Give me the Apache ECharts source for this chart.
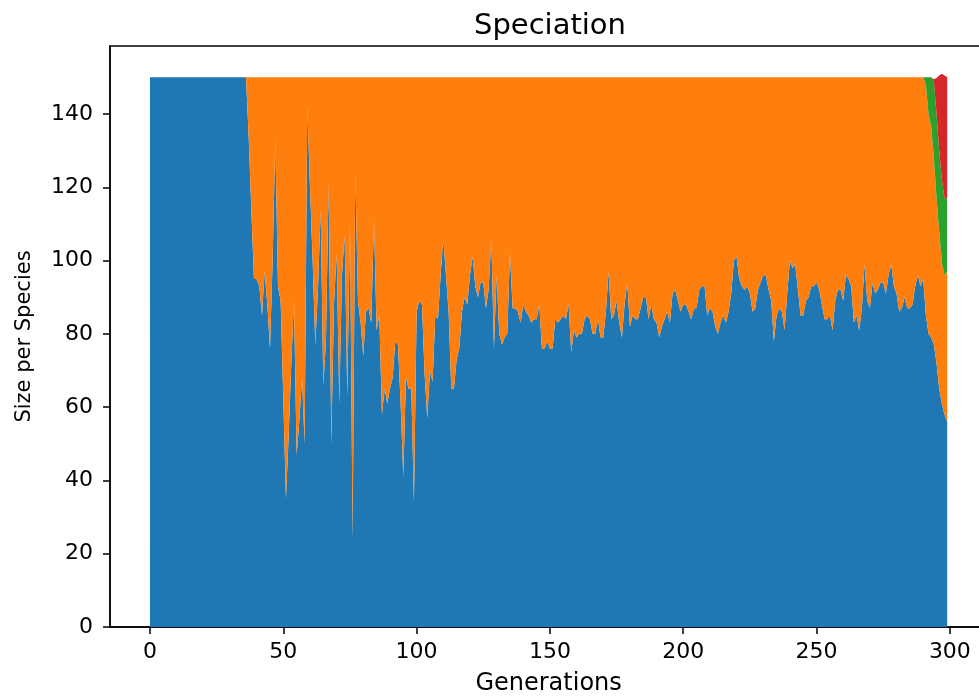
<!DOCTYPE html>
<html>
<head>
<meta charset="utf-8">
<script src="https://cdn.jsdelivr.net/npm/echarts@6/dist/echarts.min.js"></script>
<style>
html,body{margin:0;padding:0;background:#fff;overflow:hidden;width:979px;height:696px;}
#chart{width:992px;height:696px;}
</style>
</head>
<body>
<div id="chart"></div>
<script>
// Species sizes per generation (index = generation)
const speciesNames = ['Species 1', 'Species 2', 'Species 3', 'Species 4'];
const xTicks = [0, 50, 100, 150, 200, 250, 300];
const yTicks = [0, 20, 40, 60, 80, 100, 120, 140];

const blue = [
150,150,150,150,150,150,150,150,150,150,
150,150,150,150,150,150,150,150,150,150,
150,150,150,150,150,150,150,150,150,150,
150,150,150,150,150,150,150,134,114,95,
95,93,85,97,88,76,100,133,93,89,
62,35,52,72,89,47,56,68,50,142,
120,100,77,92,114,66,78,121,50,88,
102,61,96,107,63,110,24,124,89,83,
74,86,87,83,111,81,85,58,65,61,
65,68,78,77,61,41,68,65,65,34,
86,89,88,69,57,70,67,85,84,96,
106,96,86,65,65,73,76,86,90,88,
96,101,93,90,94,94,87,92,106,76,
96,80,77,79,80,102,87,87,86,83,
88,86,85,83,84,84,88,76,76,78,
76,76,84,83,84,85,84,88,75,81,
79,80,80,84,85,84,80,80,84,79,
79,86,97,84,85,89,83,79,88,94,
82,85,84,84,87,90,90,84,88,84,
83,79,82,84,86,83,91,92,89,86,
88,88,86,84,87,87,92,93,93,85,
87,86,82,80,83,85,83,86,91,100,
101,95,93,92,93,91,86,87,92,94,
96,96,92,89,78,85,87,86,81,91,
100,98,99,92,85,85,89,90,93,93,
94,92,88,84,84,85,81,89,92,92,
89,96,95,93,83,85,81,87,99,89,
87,94,91,92,94,94,91,96,99,93,
91,86,87,90,87,87,88,93,96,93,
95,85,80,79,77,72,65,61,58,56
];

// orange species, first appears at generation 36
const orangeStart = 36;
const orange = [
0,
16,36,55,
55,57,65,53,62,74,50,17,57,61,
88,115,98,78,61,103,94,82,100,8,
30,50,73,58,36,84,72,29,100,62,
48,89,54,43,87,40,126,26,61,67,
76,64,63,67,39,69,65,92,85,89,
85,82,72,73,89,109,82,85,85,116,
64,61,62,81,93,80,83,65,66,54,
44,54,64,85,85,77,74,64,60,62,
54,49,57,60,56,56,63,58,44,74,
54,70,73,71,70,48,63,63,64,67,
62,64,65,67,66,66,62,74,74,72,
74,74,66,67,66,65,66,62,75,69,
71,70,70,66,65,66,70,70,66,71,
71,64,53,66,65,61,67,71,62,56,
68,65,66,66,63,60,60,66,62,66,
67,71,68,66,64,67,59,58,61,64,
62,62,64,66,63,63,58,57,57,65,
63,64,68,70,67,65,67,64,59,50,
49,55,57,58,57,59,64,63,58,56,
54,54,58,61,72,65,63,64,69,59,
50,52,51,58,65,65,61,60,57,57,
56,58,62,66,66,65,69,61,58,58,
61,54,55,57,67,65,69,63,51,61,
63,56,59,58,56,56,59,54,51,57,
59,64,63,60,63,63,62,57,54,57,
55,63,60,57.5,51,45,43,38.5,38,41
];

// green species, from generation 290
const greenStart = 290;
const green = [0, 2, 10, 13.5, 21, 23, 22, 22.5, 21, 20];

// red species, from generation 293
const redStart = 293;
const red = [0, 0.5, 9.8, 20.5, 29, 33.5, 33];

const colors = ['#1f77b4', '#ff7f0e', '#2ca02c', '#d62728'];

// Category axis covering the padded range (matplotlib-like 5% margins): -15 .. 314
const padLeft = 15, padRight = 15;
const nGen = blue.length;
const categories = [];
for (let g = -padLeft; g < nGen + padRight; g++) categories.push(g);

// full-length tables aligned with the categories (null outside the data, 0 before a species appears)
function table(vals, start) {
  return categories.map(g => {
    if (g < 0 || g >= nGen) return '-';
    return (g >= start && g - start < vals.length) ? vals[g - start] : 0;
  });
}
const seriesData = [table(blue, 0), table(orange, orangeStart), table(green, greenStart), table(red, redStart)];

const FONT = 'DejaVu Sans';
const isTick = (idx, val) => xTicks.indexOf(Number(val)) >= 0;

const chart = echarts.init(document.getElementById('chart'), null, {renderer: 'canvas'});
chart.setOption({
  animation: false,
  backgroundColor: '#ffffff',
  title: {
    text: 'Speciation',
    left: 545, top: 7, textAlign: 'center',
    textStyle: {fontFamily: FONT, fontSize: 29, fontWeight: 'normal', color: '#000'}
  },
  grid: {left: 110, top: 46, width: 877.2, height: 581, outerBoundsMode: 'none', containLabel: false,
         show: true, borderColor: '#000', borderWidth: 1.5, backgroundColor: 'transparent'},
  xAxis: {
    type: 'category', data: categories, boundaryGap: false,
    name: 'Generations', nameLocation: 'middle', nameGap: 45,
    nameTextStyle: {fontFamily: FONT, fontSize: 24, color: '#000'},
    axisLine: {show: true, onZero: false, lineStyle: {color: '#000', width: 1.5}},
    axisTick: {show: true, length: 7, interval: isTick, lineStyle: {color: '#000', width: 1.5}},
    axisLabel: {fontFamily: FONT, fontSize: 22, color: '#000', margin: 14, interval: isTick},
    splitLine: {show: false}
  },
  yAxis: {
    type: 'value', min: 0, max: 158.55, interval: 20,
    name: 'Size per Species', nameLocation: 'middle', nameGap: 75, nameRotate: 90,
    nameTextStyle: {fontFamily: FONT, fontSize: 21, color: '#000'},
    axisLine: {show: true, lineStyle: {color: '#000', width: 1.5}},
    axisTick: {show: true, length: 7, lineStyle: {color: '#000', width: 1.5}, customValues: yTicks},
    axisLabel: {fontFamily: FONT, fontSize: 22, color: '#000', margin: 17, customValues: yTicks},
    splitLine: {show: false}
  },
  series: seriesData.map((d, i) => ({
    name: speciesNames[i],
    type: 'line',
    stack: 'total',
    data: d,
    symbol: 'none',
    showSymbol: false,
    smooth: false,
    connectNulls: false,
    lineStyle: {width: 0, color: colors[i]},
    itemStyle: {color: colors[i]},
    areaStyle: {color: colors[i], opacity: 1},
    z: 2
  }))
});
</script>
</body>
</html>
